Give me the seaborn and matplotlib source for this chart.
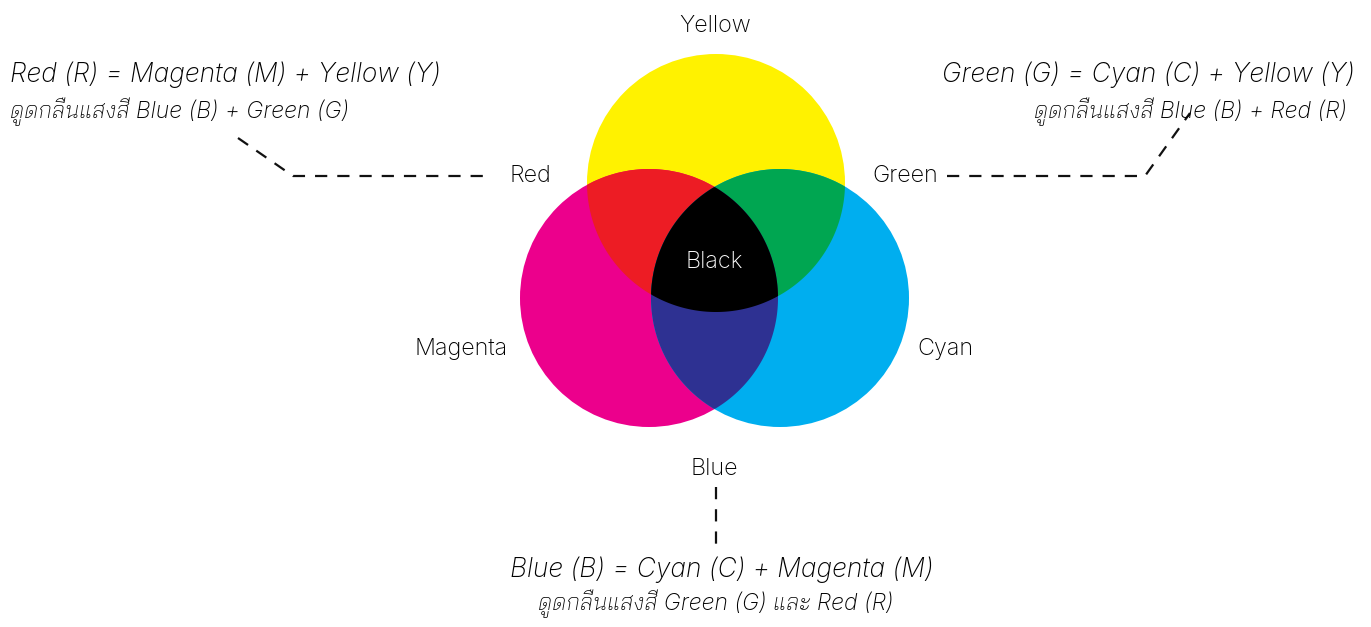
import matplotlib
matplotlib.use("Agg")
import matplotlib.pyplot as plt
import numpy as np
import seaborn as sns

# วงกลมสีหลัก (หน่วยเป็นพิกเซลของภาพ)
circle_names = ["Yellow", "Magenta", "Cyan"]
circle_colors = ["#FFF200", "#EC008C", "#00AEEF"]
circle_x = [716, 649, 780]
circle_y = [183, 298, 298]
radius = 129

# บริเวณที่ซ้อนกัน
mix_names = ["Red", "Green", "Blue", "Black"]
mix_sets = [[0, 1], [0, 2], [1, 2], [0, 1, 2]]
mix_colors = ["#ED1C24", "#00A651", "#2E3192", "#000000"]

# ป้ายชื่อสี
label_text = ["Yellow", "Red", "Green", "Black", "Magenta", "Cyan", "Blue"]
label_x = [715, 551, 872, 714, 508, 917, 714]
label_y = [32, 182, 182, 268, 355, 355, 475]
label_ha = ["center", "right", "left", "center", "right", "left", "center"]
label_color = ["#000000"] * 3 + ["white"] + ["#000000"] * 3

# คำอธิบาย
note_title = [
    "Red (R) = Magenta (M) + Yellow (Y)",
    "Green (G) = Cyan (C) + Yellow (Y)",
    "Blue (B) = Cyan (C) + Magenta (M)",
]
note_sub = [
    "ดูดกลืนแสงสี Blue (B) + Green (G)",
    "ดูดกลืนแสงสี Blue (B) + Red (R)",
    "ดูดกลืนแสงสี Green (G) และ Red (R)",
]
note_x = [10, 1355, 722]
note_sub_x = [10, 1347, 716]
note_y = [82, 82, 577]
note_sub_y = [118, 118, 610]
note_ha = ["left", "right", "center"]

# เส้นประชี้
leader_x = [[238, 293, 484], [947, 1145, 1190], [716, 716]]
leader_y = [[138, 176, 176], [176, 176, 113], [487, 544]]


def region(ids, n=1440):
    t = np.linspace(0, 2 * np.pi, n, endpoint=False)
    pts = []
    for i in ids:
        px = circle_x[i] + radius * np.cos(t)
        py = circle_y[i] + radius * np.sin(t)
        keep = np.ones(n, bool)
        for j in ids:
            if j != i:
                keep &= (px - circle_x[j]) ** 2 + (py - circle_y[j]) ** 2 <= radius**2 + 1e-6
        pts.append(np.column_stack([px[keep], py[keep]]))
    pts = np.vstack(pts)
    c = pts.mean(axis=0)
    order = np.argsort(np.arctan2(pts[:, 1] - c[1], pts[:, 0] - c[0]))
    return pts[order]


sns.set_theme(style="white")
plt.rcParams["font.family"] = ["Inter", "Bai Jamjuree"]

fig = plt.figure(figsize=(13.71, 6.27), dpi=100)
ax = fig.add_axes([0, 0, 1, 1])
ax.set_xlim(0, 1371)
ax.set_ylim(627, 0)
ax.axis("off")

for i in range(3):
    ax.add_patch(plt.Circle((circle_x[i], circle_y[i]), radius,
                            color=circle_colors[i], lw=0))
for ids, col in zip(mix_sets, mix_colors):
    poly = region(ids)
    ax.fill(poly[:, 0], poly[:, 1], color=col, lw=0)

for t, x, y, ha, col in zip(label_text, label_x, label_y, label_ha, label_color):
    ax.text(x, y, t, ha=ha, va="baseline", fontsize=16.8, weight="light", color=col)

for i in range(3):
    ax.text(note_x[i], note_y[i], note_title[i], ha=note_ha[i], va="baseline",
            fontsize=19, style="italic", weight="light", color="#000000")
    ax.text(note_sub_x[i], note_sub_y[i], note_sub[i], ha=note_ha[i], va="baseline",
            fontsize=16.5, style="italic", weight="light", color="#000000")

for xs, ys in zip(leader_x, leader_y):
    sns.lineplot(x=xs, y=ys, ax=ax, sort=False, color="#111111", lw=1.6,
                 dashes=False, estimator=None)
    ax.lines[-1].set_dashes([5.5, 4.5])

fig.savefig("out.png", dpi=100)
